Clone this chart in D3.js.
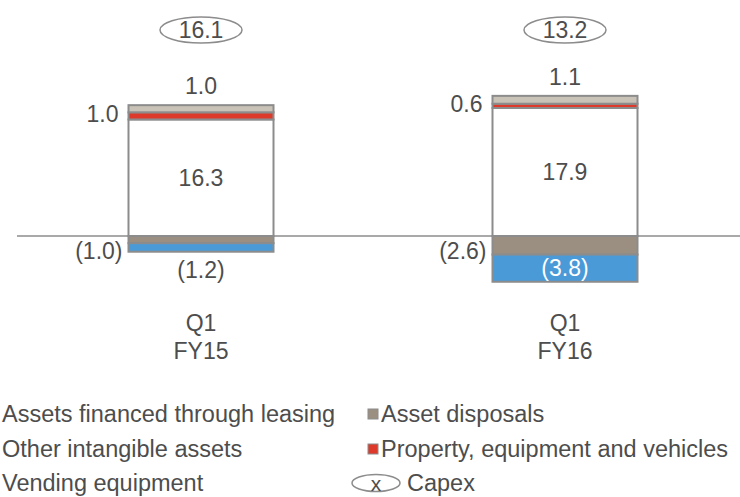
<!DOCTYPE html>
<html>
<head>
<meta charset="utf-8">
<script src="https://cdn.jsdelivr.net/npm/d3@7"></script>
<style>
  body { margin: 0; background: #fff; }
  text { font-family: "Liberation Sans", Arial, sans-serif; fill: #4d4d4d; }
</style>
</head>
<body>
<div id="chart"></div>
<script>
// data
var periods = ["Q1 FY15", "Q1 FY16"];
var periodLines = [["Q1", "FY15"], ["Q1", "FY16"]];
var vending = [16.3, 17.9];
var property = [1.0, 0.6];
var otherIntangible = [1.0, 1.1];
var disposals = [-1.0, -2.6];
var leasing = [-1.2, -3.8];
var capex = [16.1, 13.2];

var legendLeft = ["Assets financed through leasing", "Other intangible assets", "Vending equipment"];
var legendRight = ["Asset disposals", "Property, equipment and vehicles", "Capex"];

var svgWidth = 740, svgHeight = 497;
var fontSize = 23;
var legendFont = 23.5;

var svg = d3.select("#chart")
  .append("svg")
  .attr("width", svgWidth)
  .attr("height", svgHeight);

var x = d3.scalePoint().domain(periods).range([201, 565]);
var barWidth = 145;

var y = d3.scaleLinear().domain([0, 20]).range([236, 93]);

var fmt = d3.format(".1f");
function neg(v) { return "(" + fmt(Math.abs(v)) + ")"; }

// build stacks
var segments = [];
periods.forEach(function(p, i) {
  var up = 0, down = 0;
  [["vending", vending[i], "#ffffff"], ["property", property[i], "#dd3a2b"], ["other", otherIntangible[i], "#c9c2b7"]]
    .forEach(function(s) {
      segments.push({period: p, key: s[0], value: s[1], y0: up, y1: up + s[1], color: s[2]});
      up += s[1];
    });
  [["disposals", disposals[i], "#9a8f80"], ["leasing", leasing[i], "#4a9ad8"]]
    .forEach(function(s) {
      segments.push({period: p, key: s[0], value: s[1], y0: down + s[1], y1: down, color: s[2]});
      down += s[1];
    });
});

// zero line
svg.append("line")
  .attr("x1", 17).attr("x2", svgWidth)
  .attr("y1", y(0)).attr("y2", y(0))
  .attr("stroke", "#8c8c8c")
  .attr("stroke-width", 1.5);

svg.selectAll("rect.seg")
  .data(segments)
  .enter()
  .append("rect")
  .attr("class", "seg")
  .attr("x", d => x(d.period) - barWidth / 2)
  .attr("width", barWidth)
  .attr("y", d => y(d.y1))
  .attr("height", d => y(d.y0) - y(d.y1))
  .attr("fill", d => d.color)
  .attr("stroke", "#8c8c8c")
  .attr("stroke-width", 2);

// text helper
function label(txt, px, py, anchor, color, size) {
  svg.append("text")
    .attr("x", px).attr("y", py)
    .attr("dy", "0.35em")
    .attr("text-anchor", anchor)
    .style("font-size", (size || fontSize) + "px")
    .style("fill", color || "#4d4d4d")
    .text(txt);
}

// segment labels
segments.forEach(function(d) {
  var cx = x(d.period), left = cx - barWidth / 2;
  var mid = (y(d.y0) + y(d.y1)) / 2;
  var h = y(d.y0) - y(d.y1);
  if (d.key === "vending") label(fmt(d.value), cx, mid, "middle");
  if (d.key === "property") label(fmt(d.value), left - 10, mid - 2, "end");
  if (d.key === "other") label(fmt(d.value), cx, y(d.y1) - 19, "middle");
  if (d.key === "disposals") label(neg(d.value), left - 6, y(0) + 15, "end");
  if (d.key === "leasing") {
    if (h > 20) label(neg(d.value), cx, mid, "middle", "#ffffff");
    else label(neg(d.value), cx, y(d.y0) + 18, "middle");
  }
});

// capex ellipses
var capexG = svg.selectAll("g.capex")
  .data(capex)
  .enter()
  .append("g")
  .attr("class", "capex")
  .attr("transform", (d, i) => `translate(${x(periods[i])}, 30)`);

capexG.append("ellipse")
  .attr("rx", 41).attr("ry", 13)
  .attr("fill", "#fff")
  .attr("stroke", "#8c8c8c")
  .attr("stroke-width", 1.5);

capexG.append("text")
  .attr("dy", "0.35em")
  .attr("text-anchor", "middle")
  .style("font-size", fontSize + "px")
  .text(d => fmt(d));

// category labels
periodLines.forEach(function(lines, i) {
  lines.forEach(function(t, j) {
    label(t, x(periods[i]), 323 + j * 28, "middle");
  });
});

// legend
var rowY = [414, 449, 483];
legendLeft.forEach(function(t, i) {
  label(t, 2, rowY[i], "start", null, legendFont);
});

var swatch = ["#9a8f80", "#dd3a2b"];
legendRight.forEach(function(t, i) {
  if (i < 2) {
    svg.append("rect")
      .attr("x", 368).attr("y", rowY[i] - 5)
      .attr("width", 10).attr("height", 10)
      .attr("fill", swatch[i])
      .attr("stroke", "#8c8c8c")
      .attr("stroke-width", 1);
    label(t, 381, rowY[i], "start", null, legendFont);
  } else {
    svg.append("ellipse")
      .attr("cx", 376).attr("cy", rowY[i])
      .attr("rx", 24).attr("ry", 8.5)
      .attr("fill", "#fff")
      .attr("stroke", "#8c8c8c")
      .attr("stroke-width", 1.5);
    label("x", 376, rowY[i] + 1, "middle", null, 21);
    label(t, 407, rowY[i], "start", null, legendFont);
  }
});
</script>
</body>
</html>
